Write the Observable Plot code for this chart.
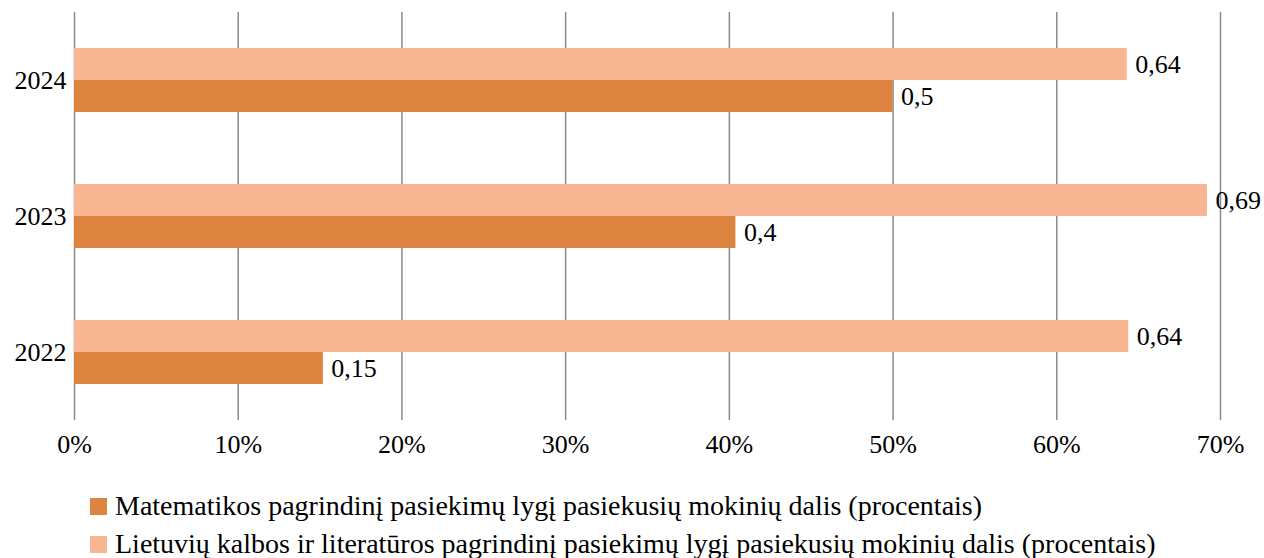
<!DOCTYPE html>
<html>
<head>
<meta charset="utf-8">
<script src="https://cdn.jsdelivr.net/npm/d3@7"></script>
<script src="https://cdn.jsdelivr.net/npm/@observablehq/plot@0.6"></script>
<style>
  body { margin: 0; background: #fff; font-family: "Liberation Serif", "Times New Roman", serif; }
  #legend { padding-top: 17px; padding-left: 90px; }
  .row { display: flex; align-items: center; height: 38px; font-size: 28px; color: #000; }
  .sw { width: 17px; height: 17px; margin-right: 8px; flex: none; }
</style>
</head>
<body>
<div id="chart"></div>
<div id="legend"></div>
<script>
const years = ["2024", "2023", "2022"];
const seriesMath = "Matematikos pagrindinį pasiekimų lygį pasiekusių mokinių dalis (procentais)";
const seriesLt = "Lietuvių kalbos ir literatūros pagrindinį pasiekimų lygį pasiekusių mokinių dalis (procentais)";
const mathValues = [0.50, 0.404, 0.152];
const ltValues = [0.643, 0.692, 0.644];
const xTicks = [0, 0.1, 0.2, 0.3, 0.4, 0.5, 0.6, 0.7];
const colorMath = "#DD8440";
const colorLt = "#F8B692";

const data = [];
years.forEach((y, i) => {
  data.push({year: y, series: seriesLt, value: ltValues[i]});
  data.push({year: y, series: seriesMath, value: mathValues[i]});
});
const fmt = v => String(Number(v.toFixed(2))).replace(".", ",");

const chart = Plot.plot({
  width: 1264,
  height: 470,
  marginLeft: 74,
  marginRight: 44,
  marginTop: 12,
  marginBottom: 50,
  style: {fontFamily: "Liberation Serif, Times New Roman, serif", fontSize: "26px", color: "#000", background: "#fff"},
  x: {domain: [0, 0.7]},
  fy: {domain: years, padding: 0, label: null},
  y: {domain: [seriesLt, seriesMath], paddingInner: 0, paddingOuter: 1.09, axis: null},
  color: {domain: [seriesMath, seriesLt], range: [colorMath, colorLt]},
  marks: [
    Plot.gridX(xTicks, {stroke: "#898989", strokeOpacity: 1, strokeWidth: 1.5}),
    Plot.barX(data, {x: "value", y: "series", fy: "year", fill: "series"}),
    Plot.text(data, {x: "value", y: "series", fy: "year", text: d => fmt(d.value), textAnchor: "start", dx: 8, fill: "#000", fontSize: 26}),
    Plot.axisX(xTicks, {tickSize: 0, tickPadding: 14, tickFormat: d => Math.round(d * 100) + "%", label: null, line: true, stroke: "#898989", strokeWidth: 1.5}),
    Plot.axisFy({anchor: "left", tickSize: 0, tickPadding: 8, label: null})
  ]
});
document.getElementById("chart").appendChild(chart);

const legend = document.getElementById("legend");
[[seriesMath, colorMath], [seriesLt, colorLt]].forEach(([name, c]) => {
  const row = document.createElement("div");
  row.className = "row";
  const sw = document.createElement("span");
  sw.className = "sw";
  sw.style.background = c;
  const t = document.createElement("span");
  t.textContent = name;
  row.appendChild(sw);
  row.appendChild(t);
  legend.appendChild(row);
});
</script>
</body>
</html>
